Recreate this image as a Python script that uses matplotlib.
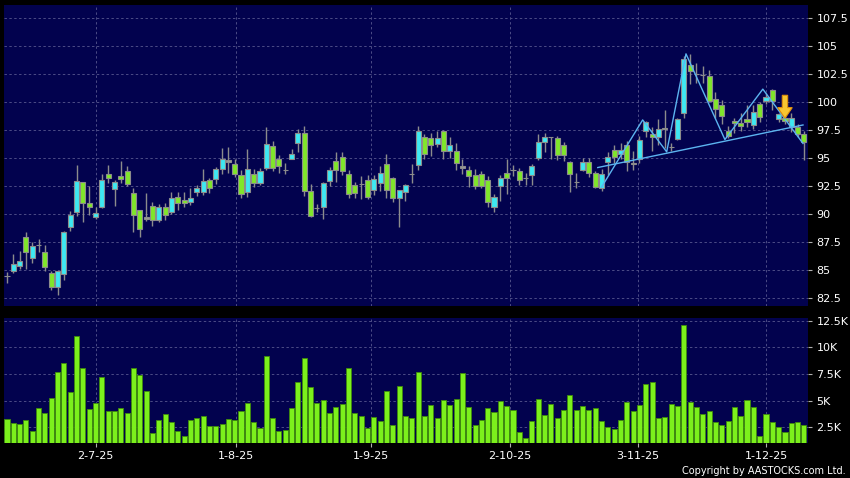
import matplotlib.pyplot as plt
from matplotlib.patches import FancyArrow
import numpy as np

# daily OHLC (price) and volume (thousands)
opens = [84.45, 84.95, 85.4, 87.95, 86.05, 87.25, 86.6, 84.75, 83.45, 84.65,
         88.8, 90.2, 92.85, 90.95, 89.75, 90.6, 93.55, 92.2, 93.4, 93.8,
         91.85, 90.4, 89.6, 90.75, 89.45, 90.6, 90.15, 91.55, 91.25, 91.05,
         92.0, 91.95, 93.05, 93.15, 94.0, 94.8, 94.5, 93.5, 92.0, 93.55,
         92.75, 94.1, 96.05, 94.95, 93.95, 94.95, 96.35, 97.2, 92.1, 90.55,
         90.6, 92.95, 94.7, 95.05, 93.6, 92.55, 92.7, 93.05, 92.15, 92.8,
         94.45, 93.2, 91.4, 92.0, 93.6, 94.35, 96.9, 96.8, 96.25, 97.45,
         95.6, 95.65, 94.25, 93.95, 93.5, 93.55, 93.05, 90.65, 92.5, 93.7,
         93.95, 93.85, 93.2, 93.5, 95.0, 96.45, 96.85, 96.75, 96.2, 94.65,
         92.85, 93.95, 94.65, 93.7, 92.3, 94.65, 95.7, 95.35, 96.2, 94.6,
         94.9, 97.45, 97.1, 96.85, 97.65, 95.95, 96.7, 99.0, 103.3, 102.5,
         102.4, 102.35, 100.25, 99.75, 97.45, 98.3, 98.1, 98.5, 97.95, 99.85,
         100.05, 101.05, 98.5, 98.6, 97.8, 97.75, 97.1]
closes = [84.45, 85.5, 85.8, 86.6, 87.15, 87.2, 85.3, 83.45, 84.95, 88.4,
          89.95, 92.95, 90.95, 90.6, 90.05, 93.0, 93.25, 92.9, 93.1, 92.65,
          89.9, 88.7, 89.75, 89.45, 90.6, 89.9, 91.4, 90.95, 90.95, 91.4,
          92.3, 92.95, 92.3, 94.0, 94.95, 94.65, 93.6, 91.8, 94.0, 92.8,
          93.85, 96.25, 94.1, 94.3, 93.95, 95.35, 97.2, 92.05, 89.85, 90.55,
          92.75, 93.9, 93.9, 93.85, 91.8, 91.85, 92.7, 91.55, 93.1, 93.65,
          92.15, 91.4, 92.15, 92.55, 93.6, 97.45, 95.35, 96.15, 96.8, 95.6,
          96.2, 94.55, 94.1, 93.4, 92.5, 92.5, 91.1, 91.55, 93.2, 93.2,
          93.95, 93.05, 93.2, 94.3, 96.4, 96.85, 96.85, 95.3, 95.25, 93.55,
          92.85, 94.65, 93.7, 92.4, 93.55, 95.05, 95.1, 95.75, 94.65, 94.45,
          96.6, 98.25, 96.85, 97.55, 97.55, 95.95, 98.5, 103.8, 102.75, 102.5,
          102.4, 100.1, 99.4, 98.75, 96.95, 98.1, 97.85, 98.25, 99.15, 98.65,
          100.45, 100.05, 98.9, 98.3, 98.6, 97.15, 96.4]
highs = [84.85, 86.4, 86.7, 88.4, 87.5, 87.75, 87.2, 84.9, 84.95, 88.5,
         90.3, 94.4, 92.9, 92.5, 90.6, 93.6, 94.4, 93.0, 94.7, 94.3,
         92.3, 90.4, 91.85, 91.1, 90.9, 91.0, 92.0, 92.0, 92.0, 92.3,
         92.6, 94.0, 93.2, 94.2, 95.9, 95.95, 94.9, 93.95, 95.8, 94.0,
         94.1, 97.8, 96.5, 95.3, 94.6, 95.8, 97.6, 97.9, 92.7, 90.9,
         92.9, 94.2, 95.5, 95.5, 93.9, 92.9, 93.4, 93.5, 93.5, 94.3,
         95.4, 93.35, 92.15, 92.7, 94.5, 97.85, 97.1, 97.2, 97.4, 97.5,
         96.9, 96.3, 94.9, 94.3, 94.0, 93.8, 93.4, 91.8, 93.5, 94.9,
         94.4, 94.1, 93.7, 94.5, 97.1, 97.2, 96.9, 97.0, 96.4, 94.7,
         93.65, 95.0, 95.0, 93.8, 94.0, 95.5, 96.2, 96.3, 96.5, 95.6,
         97.0, 98.3, 97.8, 98.5, 99.3, 96.3, 98.55, 104.1, 104.3, 103.5,
         103.2, 102.9, 100.9, 100.2, 97.9, 98.6, 99.0, 99.7, 99.7, 100.0,
         100.8, 101.2, 99.0, 98.9, 99.0, 98.0, 97.4]
lows = [83.8, 84.75, 85.05, 85.1, 85.6, 86.6, 84.9, 83.2, 82.8, 84.1,
        88.5, 89.8, 89.3, 89.9, 89.6, 90.5, 92.8, 90.7, 92.75, 92.5,
        88.4, 87.95, 89.4, 88.9, 89.3, 89.5, 90.0, 90.4, 90.6, 90.8,
        91.6, 91.7, 91.9, 92.7, 93.6, 93.65, 93.3, 91.4, 91.5, 92.4,
        92.6, 93.9, 93.8, 93.7, 93.6, 94.9, 95.5, 91.6, 89.7, 90.2,
        89.6, 92.5, 92.9, 93.5, 91.4, 91.4, 91.3, 91.3, 91.7, 92.1,
        91.4, 91.1, 88.85, 91.2, 92.8, 93.95, 94.9, 95.2, 96.0, 94.9,
        95.0, 93.9, 93.6, 92.4, 92.2, 92.3, 90.65, 90.2, 91.2, 91.8,
        93.4, 92.6, 92.6, 92.6, 94.8, 95.55, 94.95, 94.8, 94.7, 92.0,
        92.35, 93.8, 93.3, 92.3, 92.1, 93.5, 94.6, 94.9, 93.8, 93.9,
        94.6, 96.9, 95.6, 96.2, 95.85, 95.6, 96.6, 98.55, 101.65, 101.7,
        101.7, 100.0, 98.6, 98.0, 96.8, 97.2, 97.4, 97.8, 97.6, 98.2,
        99.85, 99.3, 98.2, 98.0, 97.3, 96.9, 94.85]
volume_k = [3.28, 2.91, 2.84, 3.22, 2.19, 4.34, 3.84, 5.25, 7.72, 8.5,
            5.78, 11.03, 8.06, 4.22, 4.75, 7.25, 4.0, 4.0, 4.34, 3.88,
            8.06, 7.44, 5.91, 1.97, 3.16, 3.72, 3.03, 2.19, 1.72, 3.16,
            3.38, 3.53, 2.66, 2.66, 2.81, 3.28, 3.22, 4.06, 4.78, 2.97,
            2.44, 9.22, 3.38, 2.19, 2.28, 4.34, 6.72, 8.97, 6.25, 4.81,
            5.06, 3.81, 4.44, 4.69, 8.06, 3.84, 3.59, 2.41, 3.5, 3.13,
            5.94, 2.72, 6.38, 3.53, 3.41, 7.69, 3.53, 4.63, 3.41, 5.09,
            4.63, 5.16, 7.59, 4.41, 2.69, 3.22, 4.28, 3.94, 4.97, 4.53,
            4.13, 2.09, 1.53, 3.13, 5.13, 3.69, 4.66, 3.34, 4.09, 5.56,
            4.16, 4.53, 4.09, 4.31, 3.09, 2.56, 2.31, 3.22, 4.88, 4.0,
            4.63, 6.56, 6.75, 3.41, 3.5, 4.69, 4.53, 12.13, 4.91, 4.44,
            3.75, 4.03, 2.97, 2.69, 3.13, 4.41, 3.59, 5.06, 4.41, 1.72,
            3.75, 2.97, 2.53, 2.03, 2.88, 3.03, 2.69]

date_labels = ["2-7-25", "1-8-25", "1-9-25", "2-10-25", "3-11-25", "1-12-25"]
date_pos = [14.0, 36.2, 57.5, 79.5, 99.8, 120.0]
price_ticks = [82.5, 85, 87.5, 90, 92.5, 95, 97.5, 100, 102.5, 105, 107.5]
vol_ticks = [2.5, 5, 7.5, 10, 12.5]
vol_labels = ["2.5K", "5K", "7.5K", "10K", "12.5K"]

# pattern drawing (head & shoulders zigzag + neckline) and sell signal
zigzag_x = [94.0, 100.5, 104.3, 107.35, 113.5, 119.5, 125.85]
zigzag_y = [92.4, 98.4, 95.55, 104.3, 96.65, 101.15, 96.3]
neck_x = [93.4, 125.85]
neck_y = [94.15, 97.95]
signal_x = 123
signal_top, signal_tip = 100.6, 98.55

bg = '#000000'
panel = '#02024e'
grid_c = '#4c4c86'
cyan = '#3ee8f2'
lime = '#80e62a'
edge = '#8c8c8c'

fig = plt.figure(figsize=(8.5, 4.78), dpi=100, facecolor=bg)
ax = fig.add_axes([4 / 850, 1 - 306 / 478, 804 / 850, 301 / 478])
axv = fig.add_axes([4 / 850, 1 - 443 / 478, 804 / 850, 125 / 478])

o = np.array(opens)
c = np.array(closes)
idx = np.arange(len(o))
colors = []
for a, b in zip(o, c):
    if abs(b - a) < 0.16:
        colors.append('#9a9a9a')
    elif b > a:
        colors.append(cyan)
    else:
        colors.append(lime)

for a in (ax, axv):
    a.set_facecolor(panel)
    for s in a.spines.values():
        s.set_visible(False)
    a.set_xlim(-0.47, 126.64)
    a.set_xticks(date_pos)
    a.grid(True, color=grid_c, linestyle=(0, (2.5, 2.5)), linewidth=0.7)
    a.set_axisbelow(True)
    a.yaxis.tick_right()
    a.tick_params(axis='y', colors='#b0b0b0', labelcolor='white',
                  length=3, pad=3, labelsize=8)

ax.vlines(idx, lows, highs, color=edge, linewidth=1, zorder=2)
ax.bar(idx, np.abs(c - o), bottom=np.minimum(o, c), width=0.8,
       color=colors, edgecolor=edge, linewidth=0.8, zorder=3)
ax.set_ylim(81.79, 108.66)
ax.set_yticks(price_ticks)
ax.set_yticklabels(["%g" % t for t in price_ticks])
ax.tick_params(axis='x', length=0, labelbottom=False)

ax.plot(zigzag_x, zigzag_y, color='#5cb4f0', linewidth=1, zorder=4)
ax.plot(neck_x, neck_y, color='#5cb4f0', linewidth=1, zorder=4)
ax.add_patch(FancyArrow(signal_x, signal_top, 0, signal_tip - signal_top,
                        width=0.85, head_width=2.3, head_length=0.95,
                        length_includes_head=True, facecolor='#f7c630',
                        edgecolor='#e0900c', linewidth=0.8, zorder=5))

axv.bar(idx, volume_k, width=0.8, color='#7cf01c', edgecolor='#3f8c0c',
        linewidth=0.6, zorder=3)
axv.set_ylim(1.03, 12.75)
axv.set_yticks(vol_ticks)
axv.set_yticklabels(vol_labels)
axv.set_xticklabels(date_labels)
axv.tick_params(axis='x', colors='#b0b0b0', labelcolor='white',
                length=3, pad=3, labelsize=8)

fig.text(846 / 850, 1 - 471.5 / 478, "Copyright by AASTOCKS.com Ltd.",
         ha='right', va='center', color='white', fontsize=7)

fig.savefig('out.png', dpi=100, facecolor=bg)
